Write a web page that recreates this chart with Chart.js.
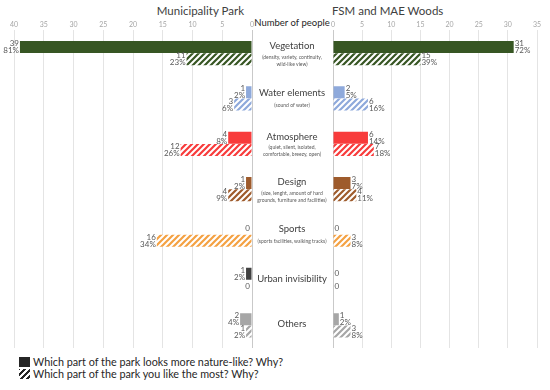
<!DOCTYPE html>
<html>
<head>
<meta charset="utf-8">
<script src="https://cdn.jsdelivr.net/npm/chart.js@4.4.1/dist/chart.umd.min.js"></script>
<style>
  body { margin: 0; width: 550px; height: 390px; background: #fff; font-family: Lato, sans-serif; position: relative; overflow: hidden; }
  .box { position: absolute; top: 0; height: 348px; }
  .title { position: absolute; top: 4px; font-size: 11.5px; color: #404040; white-space: nowrap; }
  .axis-name { position: absolute; top: 17px; left: 252px; width: 80px; text-align: center; font-size: 9.5px; color: #262626; white-space: nowrap; }
  .legend { position: absolute; left: 19px; font-size: 10.8px; color: #262626; white-space: nowrap; }
  .legend span { display: inline-block; width: 11px; height: 10px; vertical-align: -1px; margin-right: 3px; }
</style>
</head>
<body>
<div class="title" style="left:150px;width:94px;text-align:right">Municipality Park</div>
<div class="title" style="left:332px">FSM and MAE Woods</div>
<div class="axis-name">Number of people</div>

<div class="box" style="left:0;width:256px"><canvas id="parkChart"></canvas></div>
<div class="box" style="left:252px;width:298px"><canvas id="woodsChart"></canvas></div>

<div class="legend" style="top:355px"><span style="background:#262626"></span>Which part of the park looks more nature-like? Why?</div>
<div class="legend" style="top:367px"><span style="background:repeating-linear-gradient(-45deg,#fff 0 1.2px,#262626 1.2px 3px,#fff 3px 4.2px)"></span>Which part of the park you like the most? Why?</div>

<script>
const categories = ['Vegetation', 'Water elements', 'Atmosphere', 'Design', 'Sports', 'Urban invisibility', 'Others'];
const subtitles = [
  ['(density, variety, continuity,', 'wild-like view)'],
  ['(sound of water)'],
  ['(quiet, silent, isolated,', 'comfortable, breezy, open)'],
  ['(size, lenght, amount of hard', 'grounds, furniture and facilities)'],
  ['(sports facilities, walking tracks)'],
  [],
  []
];

// Municipality Park
const parkNature = [39, 1, 4, 1, 0, 1, 2];
const parkNaturePct = [81, 2, 8, 2, 0, 2, 4];
const parkLike = [11, 3, 12, 4, 16, 0, 1];
const parkLikePct = [23, 6, 26, 9, 34, 0, 2];

// FSM and MAE Woods
const woodsNature = [31, 2, 6, 3, 0, 0, 1];
const woodsNaturePct = [72, 5, 14, 7, 0, 0, 2];
const woodsLike = [15, 6, 7, 4, 3, 0, 3];
const woodsLikePct = [39, 16, 18, 11, 8, 0, 8];

const parkMax = 40;
const woodsMax = 35;

const colors = ['#375623', '#8EA9DB', '#F83B3B', '#9E5B2C', '#F4A142', '#404040', '#A6A6A6'];

function hatch(color) {
  const c = document.createElement('canvas');
  c.width = c.height = 6;
  const g = c.getContext('2d');
  g.fillStyle = '#fff';
  g.fillRect(0, 0, 6, 6);
  g.strokeStyle = color;
  g.lineWidth = 2.2;
  g.beginPath();
  g.moveTo(-1, 7); g.lineTo(7, -1);
  g.moveTo(-1, 1); g.lineTo(1, -1);
  g.moveTo(5, 7); g.lineTo(7, 5);
  g.stroke();
  return g.createPattern(c, 'repeat');
}
const hatches = colors.map(hatch);

const valueLabels = {
  id: 'valueLabels',
  afterDatasetsDraw(chart, args, opts) {
    const ctx = chart.ctx;
    ctx.save();
    ctx.font = '8px Lato';
    ctx.fillStyle = '#595959';
    ctx.textBaseline = 'middle';
    chart.data.datasets.forEach((ds, di) => {
      chart.getDatasetMeta(di).data.forEach((bar, i) => {
        const v = ds.data[i];
        let x;
        if (opts.side === 'left') {
          ctx.textAlign = 'right';
          x = v === 0 ? bar.base - 2 : bar.x - 1;
        } else {
          ctx.textAlign = 'left';
          x = v === 0 ? bar.base + 1.5 : bar.x + 1;
        }
        if (v === 0) {
          ctx.fillText('0', x, bar.y);
        } else {
          ctx.fillText(String(v), x, bar.y - 3.5);
          ctx.fillText(ds.pct[i] + '%', x, bar.y + 3.5);
        }
      });
    });
    ctx.restore();
  }
};

// category names in the middle strip
const middleLabels = {
  id: 'middleLabels',
  afterDraw(chart, args, opts) {
    const ctx = chart.ctx;
    const y = chart.scales.y;
    ctx.save();
    ctx.textAlign = 'center';
    ctx.textBaseline = 'middle';
    categories.forEach((name, i) => {
      const c = y.getPixelForValue(i);
      const subs = subtitles[i];
      let ny = c - 1;
      if (subs.length === 1) ny = c - 6;
      if (subs.length === 2) ny = c - 7;
      ctx.font = '9.5px Lato';
      ctx.fillStyle = '#404040';
      ctx.fillText(name, opts.cx, ny);
      ctx.font = '5px Lato';
      ctx.fillStyle = '#595959';
      if (subs.length === 1) ctx.fillText(subs[0], opts.cx, c + 6.5);
      if (subs.length === 2) {
        ctx.fillText(subs[0], opts.cx, c + 4);
        ctx.fillText(subs[1], opts.cx, c + 11);
      }
    });
    ctx.restore();
  }
};

function options(max, reverse, padding, side) {
  return {
    indexAxis: 'y',
    maintainAspectRatio: false,
    animation: false,
    layout: { padding: padding },
    plugins: {
      legend: { display: false },
      tooltip: { enabled: false },
      valueLabels: { side: side },
      middleLabels: { cx: 40 }
    },
    scales: {
      x: {
        position: 'top',
        min: 0,
        max: max,
        reverse: reverse,
        border: { display: false },
        grid: {
          drawTicks: false,
          color: (c) => c.tick && c.tick.value === 0 ? '#c9c9c9' : '#e4e4e4'
        },
        ticks: { stepSize: 5, padding: 1, color: '#a6a6a6', font: { size: 7, family: 'Lato' } }
      },
      y: { display: false }
    }
  };
}

function datasets(nature, naturePct, like, likePct) {
  return [
    { data: nature, pct: naturePct, backgroundColor: colors, categoryPercentage: 0.54, barPercentage: 0.98 },
    { data: like, pct: likePct, backgroundColor: hatches, categoryPercentage: 0.54, barPercentage: 0.98 }
  ];
}

new Chart(document.getElementById('parkChart'), {
  type: 'bar',
  data: { labels: categories, datasets: datasets(parkNature, parkNaturePct, parkLike, parkLikePct) },
  options: options(parkMax, true, { left: 14, right: 4, top: 20, bottom: 0 }, 'left'),
  plugins: [valueLabels]
});

new Chart(document.getElementById('woodsChart'), {
  type: 'bar',
  data: { labels: categories, datasets: datasets(woodsNature, woodsNaturePct, woodsLike, woodsLikePct) },
  options: options(woodsMax, false, { left: 81, right: 13, top: 20, bottom: 0 }, 'right'),
  plugins: [valueLabels, middleLabels]
});
</script>
</body>
</html>
